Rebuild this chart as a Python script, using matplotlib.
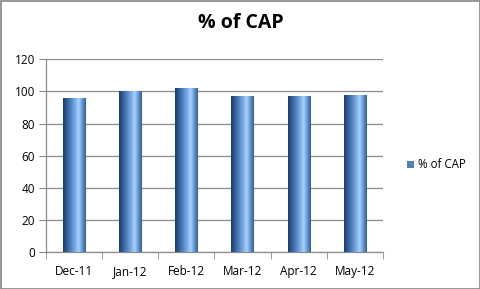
import numpy as np
import matplotlib
matplotlib.use("Agg")
import matplotlib.pyplot as plt
from matplotlib.colors import LinearSegmentedColormap
from matplotlib.patches import Rectangle

categories = ["Dec-11", "Jan-12", "Feb-12", "Mar-12", "Apr-12", "May-12"]
values = [96, 100, 102, 97, 97, 98]
series_name = "% of CAP"
title = "% of CAP"
yticks = [0, 20, 40, 60, 80, 100, 120]

plt.rcParams['font.family'] = ['Open Sans', 'DejaVu Sans']

fig = plt.figure(figsize=(4.81, 2.89), dpi=100)
ax = fig.add_axes([46/481, 1-252.3/289, (383-46)/481, (252.3-59.3)/289])

x = np.arange(len(categories))
bars = ax.bar(x, values, width=0.4, color="#4f81bd", label=series_name, zorder=2)

cmap = LinearSegmentedColormap.from_list("g", [
    (0.0, "#1c3a66"), (0.25, "#3e6fae"), (0.55, "#7fb0e8"),
    (0.68, "#a9d2fb"), (0.82, "#6d9fd8"), (1.0, "#2f5c96")])
grad = np.linspace(0, 1, 256).reshape(1, -1)
for b in bars:
    x0, y0 = b.get_x(), b.get_y()
    w, h = b.get_width(), b.get_height()
    im = ax.imshow(grad, cmap=cmap, aspect='auto', extent=(x0, x0 + w, y0, y0 + h),
                   zorder=3, interpolation='bilinear')
    im.set_clip_path(b)
ax.set_xlim(-0.5, len(categories) - 0.5)
ax.set_ylim(0, 120)
ax.set_yticks(yticks)
ax.yaxis.grid(True, color="#8c8c8c", linewidth=0.9, zorder=0)
ax.set_axisbelow(True)
ax.set_xticks(x)
ax.set_xticklabels(categories)
ax.set_xticks(np.arange(-0.5, len(categories)), minor=True)
ax.tick_params(axis='x', which='major', length=0, pad=9, labelsize=8.5)
ax.tick_params(axis='x', which='minor', length=5, color="#8c8c8c", direction='out')
ax.tick_params(axis='y', length=5, color="#8c8c8c", labelsize=8.5, pad=3)
for s in ["top", "right"]:
    ax.spines[s].set_visible(False)
for s in ["left", "bottom"]:
    ax.spines[s].set_color("#8c8c8c")
    ax.spines[s].set_linewidth(0.9)

fig.text(0.5, 1 - 23/289, title, ha='center', va='center', fontsize=14, fontweight='bold',
         family=['Open Sans', 'DejaVu Sans'])

handle = Rectangle((0, 0), 1, 1, facecolor="#4f81bd", edgecolor="none")
fig.legend([handle], [series_name], loc='center left', bbox_to_anchor=(397/481, 1 - 165/289),
           frameon=False, fontsize=8.3, handlelength=0.6, handleheight=0.6, handletextpad=0.35)

fig.patches.append(Rectangle((0.5/481, 0.5/289), 1 - 1.5/481, 1 - 1.5/289, transform=fig.transFigure,
                             fill=False, edgecolor="#868686", linewidth=1.2))

fig.savefig("out.png", dpi=100)
